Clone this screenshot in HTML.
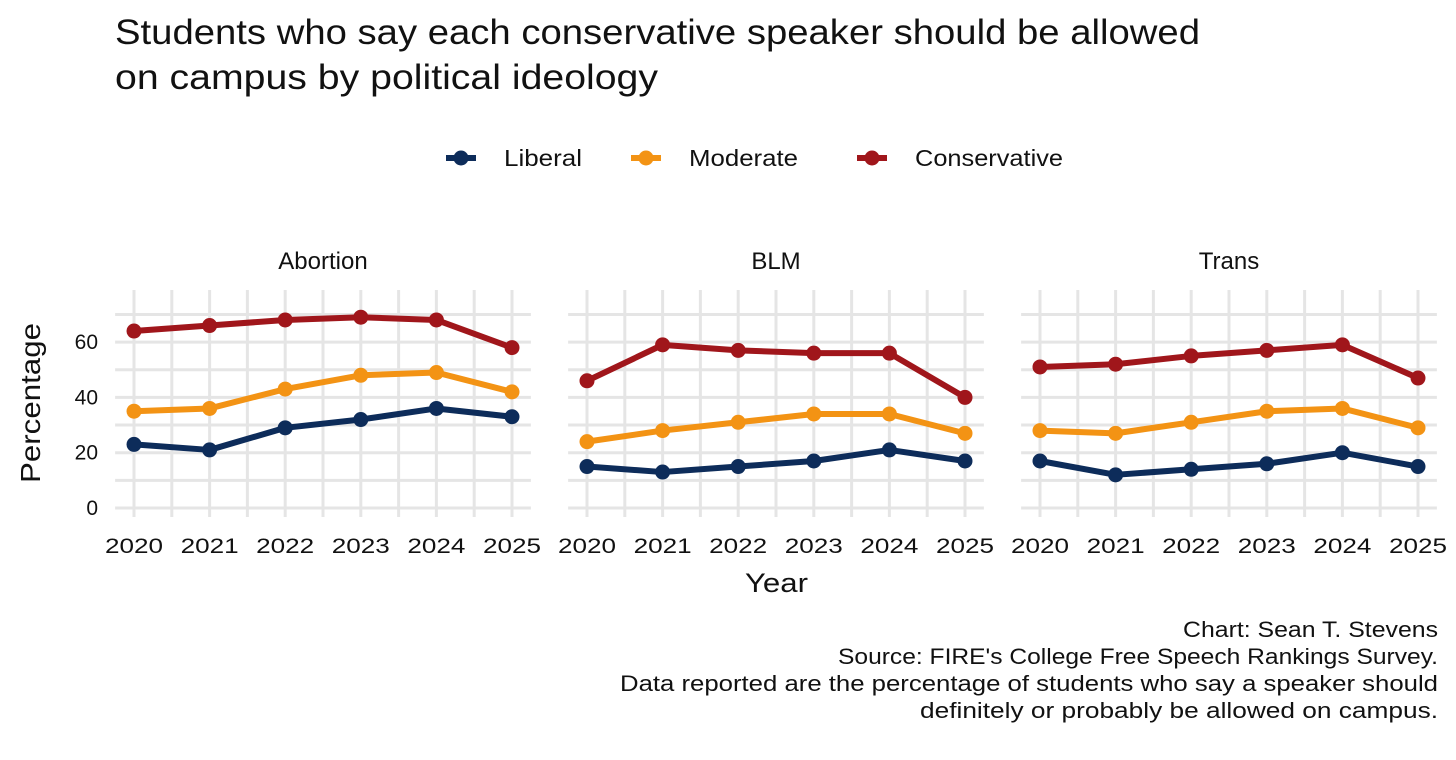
<!DOCTYPE html>
<html><head><meta charset="utf-8"><style>
body{margin:0;background:#fff;font-family:"Liberation Sans",sans-serif;}
svg text{font-family:"Liberation Sans",sans-serif;fill:#111;}
</style></head><body>
<svg id="c" width="1456" height="755" xmlns="http://www.w3.org/2000/svg">
<text x="115" y="44" font-size="35" textLength="1085" lengthAdjust="spacingAndGlyphs">Students who say each conservative speaker should be allowed</text>
<text x="115" y="89" font-size="35" textLength="543" lengthAdjust="spacingAndGlyphs">on campus by political ideology</text>
<g id="legend"></g>
<g id="plots"></g>
<text x="745" y="592" font-size="27" textLength="63" lengthAdjust="spacingAndGlyphs">Year</text>
<text transform="translate(40,483) rotate(-90)" font-size="28" textLength="160" lengthAdjust="spacingAndGlyphs">Percentage</text>
<g font-size="22">
<text x="1183" y="637" textLength="255" lengthAdjust="spacingAndGlyphs">Chart: Sean T. Stevens</text>
<text x="838" y="664" textLength="600" lengthAdjust="spacingAndGlyphs">Source: FIRE's College Free Speech Rankings Survey.</text>
<text x="620" y="691" textLength="818" lengthAdjust="spacingAndGlyphs">Data reported are the percentage of students who say a speaker should</text>
<text x="920" y="718" textLength="518" lengthAdjust="spacingAndGlyphs">definitely or probably be allowed on campus.</text>
</g>
</svg>
<script>
const years=[2020,2021,2022,2023,2024,2025];
const panels=["Abortion","BLM","Trans"];
const seriesNames=["Liberal","Moderate","Conservative"];
const liberal=[[23,21,29,32,36,33],[15,13,15,17,21,17],[17,12,14,16,20,15]];
const moderate=[[35,36,43,48,49,42],[24,28,31,34,34,27],[28,27,31,35,36,29]];
const conservative=[[64,66,68,69,68,58],[46,59,57,56,56,40],[51,52,55,57,59,47]];
const yTicks=[0,20,40,60];
const colors=["#0d2c5a","#f39314","#a0161b"];
const NS="http://www.w3.org/2000/svg";
function mk(t,a,p){const e=document.createElementNS(NS,t);for(const k in a)e.setAttribute(k,a[k]);p.appendChild(e);return e;}
const y=v=>508-v*2.765;
const panelLeft=[134,587,1040];
const step=75.6;
const plots=document.getElementById('plots');
panels.forEach((name,pi)=>{
  const g=mk('g',{},plots);
  
  
  const x=yr=>panelLeft[pi]+(yr-2020)*step;
  const x0=x(2019.75),x1=x(2025.25);
  for(let v=0;v<=70;v+=10){const l=mk('line',{x1:x0,x2:x1,y1:y(v),y2:y(v),stroke:'#e5e5e5','stroke-width':3},g);
    }
  for(let yr=2020;yr<=2025;yr+=0.5){const l=mk('line',{x1:x(yr),x2:x(yr),y1:290,y2:517,stroke:'#e5e5e5','stroke-width':3},g);
    }
  const t=mk('text',{x:(x0+x1)/2,y:269,'font-size':24,'text-anchor':'middle'},g);t.textContent=name;
  
  years.forEach(yr=>{const tt=mk('text',{x:x(yr)-29,y:553,'font-size':21,textLength:58,lengthAdjust:'spacingAndGlyphs',fill:'#333'},g);tt.textContent=yr;
    });
  if(pi===0)yTicks.forEach(v=>{const tt=mk('text',{x:98,y:y(v)+7,'font-size':21,'text-anchor':'end',fill:'#333'},g);tt.textContent=v;
    });
  [liberal,moderate,conservative].forEach((s,si)=>{
    const vals=s[pi];
    const pl=mk('polyline',{points:vals.map((v,i)=>x(years[i])+','+y(v)).join(' '),fill:'none',stroke:colors[si],'stroke-width':6,'stroke-linejoin':'round'},g);
    
    vals.forEach((v,i)=>{const c=mk('circle',{cx:x(years[i]),cy:y(v),r:7.5,fill:colors[si]},g);
      });
  });
});
const leg=document.getElementById('legend');
const legX=[446,631,857];
const legW=[78,109,148];
seriesNames.forEach((n,i)=>{
  const g=mk('g',{},leg);
  
  
  mk('line',{x1:legX[i],x2:legX[i]+30,y1:158,y2:158,stroke:colors[i],'stroke-width':6},g);
  mk('circle',{cx:legX[i]+15,cy:158,r:7.5,fill:colors[i]},g);
  const t=mk('text',{x:legX[i]+58,y:166,'font-size':23,textLength:legW[i],lengthAdjust:'spacingAndGlyphs'},g);t.textContent=n;
});
</script>
</body></html>
